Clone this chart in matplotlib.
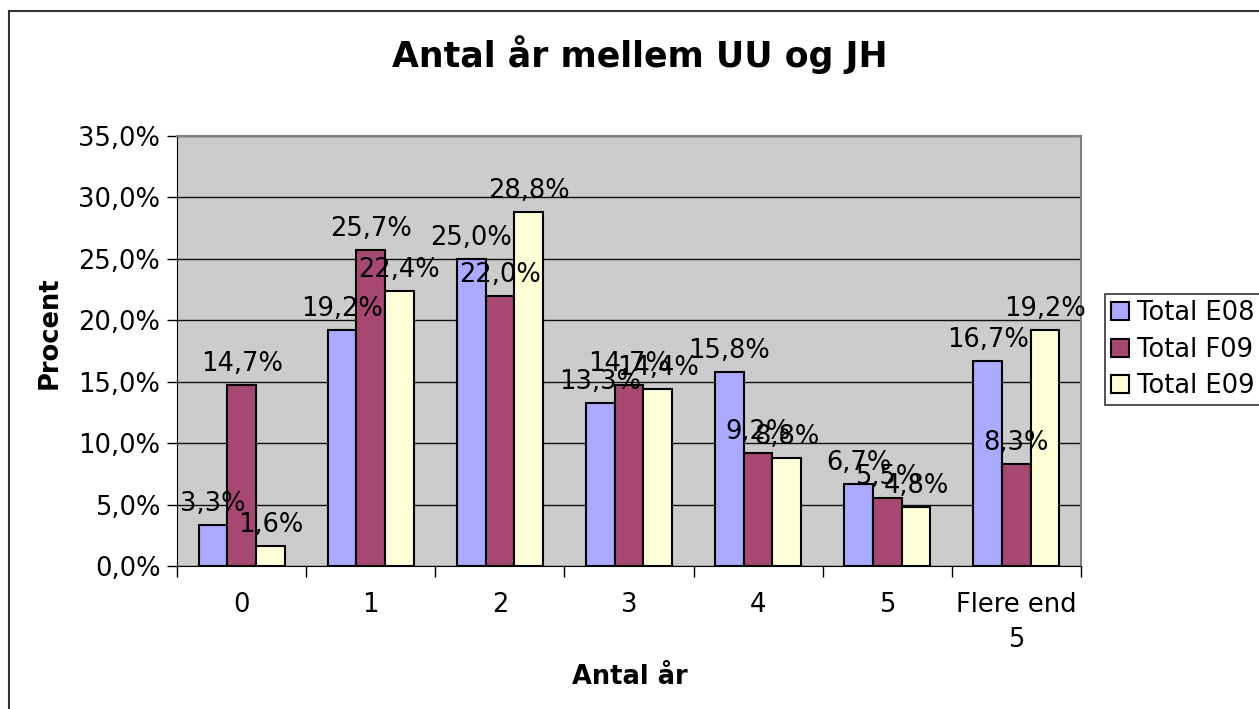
import matplotlib.pyplot as plt
import numpy as np
from matplotlib.lines import Line2D

categories = ['0', '1', '2', '3', '4', '5', 'Flere end\n5']
series = ['Total E08', 'Total F09', 'Total E09']
e08 = [3.3, 19.2, 25.0, 13.3, 15.8, 6.7, 16.7]
f09 = [14.7, 25.7, 22.0, 14.7, 9.2, 5.5, 8.3]
e09 = [1.6, 22.4, 28.8, 14.4, 8.8, 4.8, 19.2]
colors = ['#AAAAFF', '#A64872', '#FFFFD8']

fs = 18.5
fig = plt.figure(figsize=(12.59, 7.09), dpi=100)
ax = fig.add_axes([177/1259, 1-566/709, (1081-177)/1259, (566-136)/709])
ax.set_facecolor('#CCCCCC')

x = np.arange(len(categories))
w = 1/4.5
for i, (vals, c) in enumerate(zip([e08, f09, e09], colors)):
    pos = x + (i-1)*w
    ax.bar(pos, vals, w, color=c, edgecolor='black', linewidth=1.5, label=series[i], zorder=3)
    for px, v in zip(pos, vals):
        ax.text(px, v + 0.65, f'{v:.1f}%'.replace('.', ','), ha='center', va='bottom',
                fontsize=fs, zorder=5)

ax.set_xlim(-0.5, len(categories)-0.5)
ax.set_ylim(0, 35)
yt = np.arange(0, 36, 5)
ax.set_yticks(yt)
ax.set_yticklabels([f'{v:.1f}%'.replace('.', ',') for v in yt], fontsize=fs)
ax.yaxis.grid(True, color='#111111', linewidth=1, zorder=0)
ax.set_axisbelow(True)

ax.set_xticks(np.arange(-0.5, len(categories)))
ax.set_xticklabels([])
ax.set_xticks(x, minor=True)
ax.set_xticklabels(categories, minor=True, fontsize=fs, linespacing=1.45)
ax.tick_params(axis='x', which='minor', length=0, pad=19)
ax.tick_params(axis='x', which='major', length=8, width=1, direction='out')
ax.tick_params(axis='y', length=7, width=1, direction='out', pad=5)

for s in ['top', 'right']:
    ax.spines[s].set_color('#808080')
    ax.spines[s].set_linewidth(1.5)
ax.spines['left'].set_color('black')
ax.spines['bottom'].set_color('black')

fig.text(640/1259, 1-55/709, 'Antal år mellem UU og JH', ha='center', va='center',
         fontsize=25, fontweight='bold')
fig.text(50/1259, 1-333/709, 'Procent', ha='center', va='center', rotation=90,
         fontsize=fs, fontweight='bold')
fig.text(630/1259, 1-677/709, 'Antal år', ha='center', va='center',
         fontsize=fs, fontweight='bold')

leg = fig.legend(loc='upper left', bbox_to_anchor=(1105/1259, 1-294/709), fontsize=fs,
                 frameon=True, fancybox=False, edgecolor='black', handlelength=0.7,
                 handleheight=0.7, handletextpad=0.3, borderpad=0.25, labelspacing=0.4,
                 borderaxespad=0)
leg.get_frame().set_linewidth(1.2)

fig.add_artist(Line2D([9/1259, 9/1259], [0, 1-11/709], color='#333333', linewidth=1.5,
                      transform=fig.transFigure))
fig.add_artist(Line2D([9/1259, 1], [1-11/709, 1-11/709], color='#333333', linewidth=1.5,
                      transform=fig.transFigure))

fig.savefig('out.png', dpi=100)
